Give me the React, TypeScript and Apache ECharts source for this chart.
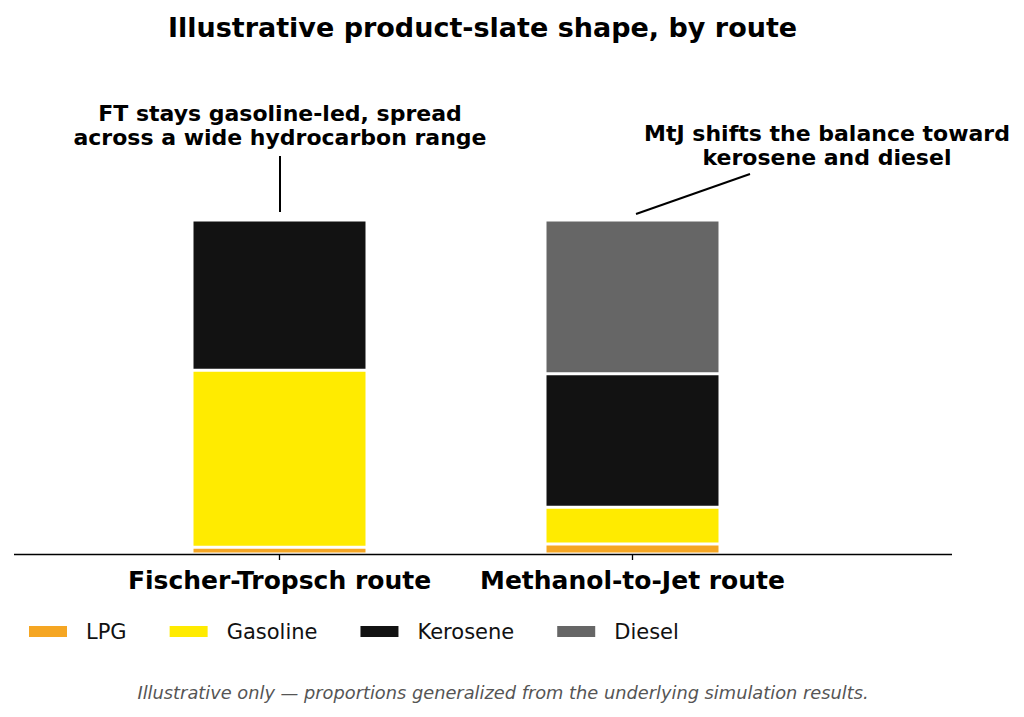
import React, { useEffect, useRef } from "react";
import * as echarts from "echarts";

const routes = ["Fischer-Tropsch route", "Methanol-to-Jet route"];
const products = ["LPG", "Gasoline", "Kerosene", "Diesel"];
const colors = ["#F5A623", "#FFEB00", "#121212", "#666666"];
const lpg = [2, 3];
const gasoline = [53, 11];
const kerosene = [45, 40];
const diesel = [0, 46];
const seriesValues = [lpg, gasoline, kerosene, diesel];

const title = "Illustrative product-slate shape, by route";
const noteFT = "FT stays gasoline-led, spread\nacross a wide hydrocarbon range";
const noteMtJ = "MtJ shifts the balance toward\nkerosene and diesel";
const footer = "Illustrative only — proportions generalized from the underlying simulation results.";

const FONT = "DejaVu Sans";

export default function App() {
  const ref = useRef<HTMLDivElement>(null);
  useEffect(() => {
    if (!ref.current) return;
    const chart = echarts.init(ref.current, null, { renderer: "svg" });
    chart.setOption({
      animation: false,
      backgroundColor: "#ffffff",
      textStyle: { fontFamily: FONT },
      grid: { left: 103, right: 1024 - 809, top: 220, bottom: 717 - 554, containLabel: false },
      xAxis: {
        type: "category",
        data: routes,
        boundaryGap: true,
        splitLine: { show: false },
        axisLine: { show: false },
        axisTick: { show: true, alignWithLabel: true, interval: 0, length: 6, lineStyle: { color: "#000", width: 1.3 } },
        axisLabel: {
          interval: 0,
          hideOverlap: false,
          fontFamily: FONT,
          fontWeight: "bold",
          fontSize: 25,
          color: "#000",
          margin: 14,
        },
      },
      yAxis: { type: "value", min: 0, max: 100, show: false, splitLine: { show: false } },
      legend: {
        data: products,
        left: 27,
        top: 621,
        padding: 0,
        itemWidth: 40,
        itemHeight: 13,
        itemGap: 41,
        icon: "rect",
        textStyle: { fontFamily: FONT, fontSize: 21, color: "#111", padding: [0, 0, 0, 13] },
      },
      series: products.map((p, i) => ({
        name: p,
        type: "bar",
        stack: "total",
        barWidth: 175,
        data: seriesValues[i],
        itemStyle: { color: colors[i], borderColor: "#ffffff", borderWidth: 1.5 },
      })),
      graphic: [
        { type: "line", shape: { x1: 14, y1: 554.5, x2: 952, y2: 554.5 }, style: { stroke: "#000", lineWidth: 1.3 }, z: 10 },
        {
          type: "text",
          x: 482.5,
          y: 27,
          style: { text: title, fontFamily: FONT, fontWeight: "bold", fontSize: 27, fill: "#000", align: "center", verticalAlign: "middle" },
        },
        {
          type: "text",
          x: 280,
          y: 125,
          style: { text: noteFT, fontFamily: FONT, fontWeight: "bold", fontSize: 22, lineHeight: 24, fill: "#000", align: "center", verticalAlign: "middle" },
        },
        {
          type: "text",
          x: 827,
          y: 145,
          style: { text: noteMtJ, fontFamily: FONT, fontWeight: "bold", fontSize: 22, lineHeight: 24, fill: "#000", align: "center", verticalAlign: "middle" },
        },
        { type: "line", shape: { x1: 280, y1: 156, x2: 280, y2: 212 }, style: { stroke: "#000", lineWidth: 2 } },
        { type: "line", shape: { x1: 750, y1: 174, x2: 636, y2: 214 }, style: { stroke: "#000", lineWidth: 2 } },
        {
          type: "text",
          x: 503,
          y: 692,
          style: { text: footer, fontFamily: FONT, fontStyle: "italic", fontSize: 17.8, fill: "#555", align: "center", verticalAlign: "middle" },
        },
      ],
    });
    return () => chart.dispose();
  }, []);
  return <div ref={ref} style={{ width: 1024, height: 717, position: "absolute", left: 0, top: 0 }} />;
}
